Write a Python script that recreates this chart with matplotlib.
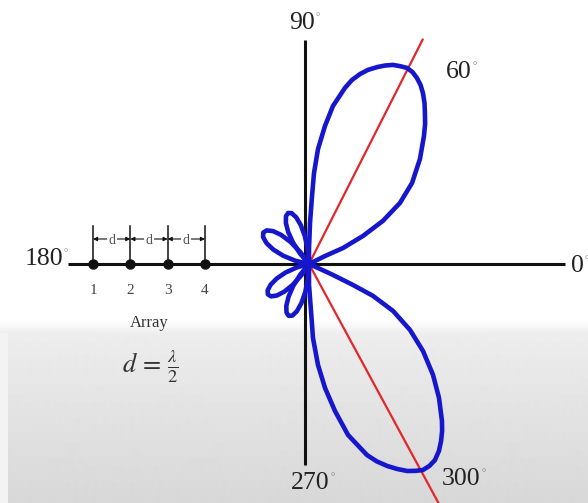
import numpy as np
import matplotlib.pyplot as plt

# radiation pattern: angle (deg) and relative field strength
upper_lobe_deg = [90, 90, 88.4, 87.1, 86.4, 84.9, 82.5, 80.2, 76.9, 75.1, 73.0, 70.9, 68.5,
                  66.4, 64.3, 62.3, 60.3, 58.4, 56.5, 54.6, 52.8, 50.7, 48.8, 46.6, 44.3,
                  39.7, 34.6, 30.5, 27.1, 24.5, 22.4, 23.6, 23.0]
upper_lobe_r = [0, .066, .180, .298, .400, .506, .610, .703, .793, .835, .871, .901, .928,
                .950, .969, .980, .990, .988, .978, .963, .942, .912, .880, .845, .803,
                .721, .626, .528, .415, .297, .184, .087, 0]

lower_lobe_deg = [-90, -90, -87.2, -86.5, -84.2, -81.6, -78.6, -75.4, -70.9, -68.6, -66.2,
                  -63.9, -61.6, -59.7, -57.8, -55.8, -53.8, -51.6, -49.6, -47.7, -46.0,
                  -42.1, -38.1, -33.8, -29.8, -26.1, -23.6, -22.7, -21.8, -21.3, -21.0]
lower_lobe_r = [0, .092, .206, .325, .445, .550, .658, .775, .887, .930, .968,
                1.001, 1.032, 1.051, 1.068, 1.071, 1.066, 1.046, 1.019, .989, .957,
                .876, .788, .686, .582, .468, .349, .238, .129, .048, 0]

# small side lobes on the back side
side_a_deg = [126, 129.8, 133.7, 137.5, 141.3, 145.2, 149, 152.8, 156.7, 160.5, 164.3, 168.2, 172]
side_a_r = [0, .069, .134, .189, .231, .258, .267, .258, .231, .189, .134, .069, 0]
side_b_deg = [92, 95.8, 99.7, 103.5, 107.3, 111.2, 115, 118.8, 122.7, 126.5, 130.3, 134.2, 138]
side_b_r = [0, .064, .124, .175, .214, .239, .247, .239, .214, .175, .124, .064, 0]
side_c_deg = [190, 193.8, 197.7, 201.5, 205.3, 209.2, 213, 216.8, 220.7, 224.5, 228.3, 232.2, 236]
side_c_r = [0, .063, .123, .173, .212, .237, .245, .237, .212, .173, .123, .063, 0]
side_d_deg = [223, 226.8, 230.7, 234.5, 238.3, 242.2, 246, 249.8, 253.7, 257.5, 261.3, 265.2, 269]
side_d_r = [0, .064, .125, .176, .216, .241, .249, .241, .216, .176, .125, .064, 0]

beam_deg = [60, -58.3]
beam_len = [1.136, 1.25]

axis_labels = ["0", "90", "180", "270"]
beam_labels = ["60", "300"]
elements = [1, 2, 3, 4]

BLUE = "#1616cc"
RED = "#e3262b"
INK = "#222222"
SERIF = "Liberation Serif"

fig = plt.figure(figsize=(5.88, 5.03), dpi=100)
ax = fig.add_axes([0, 0, 1, 1])
ax.set_axis_off()

# pixel frame of the sketch -> data units (x and y scaled differently)
cx, cy, sx, sy = 309, 264, 200, 228
W, H = 588, 503
xlim = (-cx / sx, (W - cx) / sx)
ylim = (-(H - cy) / sy, cy / sy)


def px(x):
    return (x - cx) / sx


def py(y):
    return (cy - y) / sy


# grey screen-capture background at the bottom
stops_y = [0, 14, 40, H - 320]
stops_v = [1.0, 0.93, 0.915, 0.845]
grad = np.interp(np.arange(H - 320), stops_y, stops_v)[:, None]
ax.imshow(grad, extent=[xlim[0], xlim[1], py(H), py(320)], aspect="auto",
          cmap="gray", vmin=0, vmax=1, zorder=0, interpolation="bilinear")
ax.imshow(np.full((2, 2), 0.95), extent=[xlim[0], px(8), py(H), py(333)], aspect="auto",
          cmap="gray", vmin=0, vmax=1, zorder=0.1)

# axes of the pattern
ax.plot([px(68), px(565)], [0, 0], color="#111111", lw=2.2, zorder=2, solid_capstyle="butt")
ax.plot([px(305), px(305)], [py(40), py(465)], color="#111111", lw=2.2, zorder=2,
        solid_capstyle="butt")

# beam direction lines
for a, L in zip(beam_deg, beam_len):
    t = np.deg2rad(a)
    ax.plot([0, L * np.cos(t)], [0, L * np.sin(t)], color=RED, lw=1.6, zorder=3)

# lobes
lobes = [(upper_lobe_deg, upper_lobe_r), (lower_lobe_deg, lower_lobe_r),
         (side_a_deg, side_a_r), (side_b_deg, side_b_r),
         (side_c_deg, side_c_r), (side_d_deg, side_d_r)]
for deg, r in lobes:
    t = np.deg2rad(deg)
    r = np.asarray(r)
    ax.plot(r * np.cos(t), r * np.sin(t), color=BLUE, lw=3.3, zorder=4,
            solid_joinstyle="round", solid_capstyle="round")


def deg_text(x, y, num, ha="center", va="center", size=18.5):
    t = ax.text(x, y, num, fontsize=size, family=SERIF, color=INK, ha=ha, va=va, zorder=5)
    ax.annotate("°", xy=(1, 0.93), xycoords=t, xytext=(0.5, 0), textcoords="offset points",
                fontsize=size * 0.42, family=SERIF, color="#777777", ha="left", va="top")
    return t


deg_text(px(571), py(266), axis_labels[0], ha="left")
deg_text(px(302), py(23), axis_labels[1])
deg_text(px(63), py(259), axis_labels[2], ha="right")
deg_text(px(310), py(483), axis_labels[3])
deg_text(px(446), py(72), beam_labels[0], ha="left")
deg_text(px(442), py(479), beam_labels[1], ha="left")

# array sketch
ex = [px(93) + (n - 1) * (px(205) - px(93)) / 3 for n in elements]
ax.plot(ex, [0] * len(ex), "o", color="#111111", ms=6.5, zorder=5)
for x in ex:
    ax.plot([x, x], [0, py(226)], color="#111111", lw=1.1, zorder=5)
for n, x in zip(elements, ex):
    ax.text(x, py(291), str(n), fontsize=11, family=SERIF, color="#444444",
            ha="center", va="center")
for x0, x1 in zip(ex[:-1], ex[1:]):
    ax.annotate("", xy=(x1, py(239)), xytext=(x0, py(239)),
                arrowprops=dict(arrowstyle="<|-|>", lw=0.8, color="#111111",
                                shrinkA=0, shrinkB=0, mutation_scale=6))
    ax.text((x0 + x1) / 2, py(240), "d", fontsize=10, family=SERIF, color="#555555",
            ha="center", va="center",
            bbox=dict(boxstyle="square,pad=0.1", fc="white", ec="none"))

ax.text(px(149), py(323), "Array", fontsize=12, family=SERIF, color="#333333",
        ha="center", va="center")
plt.rcParams["mathtext.fontset"] = "stix"
ax.text(px(150), py(366), r"$d\,=\,\frac{\lambda}{2}$", fontsize=19, color="#333333",
        ha="center", va="center")

ax.set_xlim(*xlim)
ax.set_ylim(*ylim)
fig.savefig("out.png", dpi=100)
